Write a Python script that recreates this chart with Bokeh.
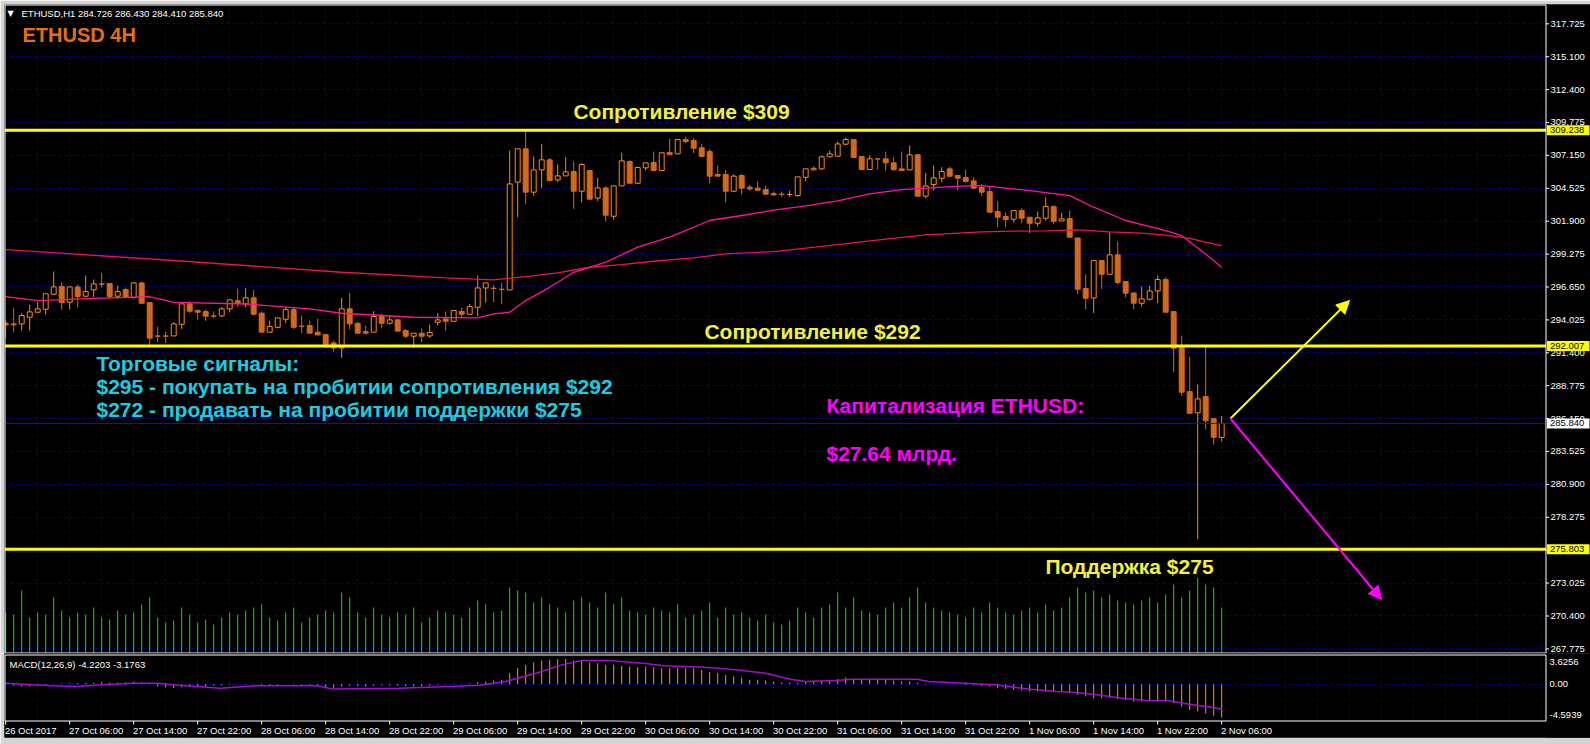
from bokeh.plotting import figure
from bokeh.models import Range1d, FixedTicker, Label, Arrow, NormalHead, ColumnDataSource
from bokeh.layouts import column
from bokeh.embed import file_html
from bokeh.resources import INLINE
from bokeh.core.properties import value

# ---------------- data ----------------
time_labels = ["26 Oct 2017", "27 Oct 06:00", "27 Oct 14:00", "27 Oct 22:00", "28 Oct 06:00",
               "28 Oct 14:00", "28 Oct 22:00", "29 Oct 06:00", "29 Oct 14:00", "29 Oct 22:00",
               "30 Oct 06:00", "30 Oct 14:00", "30 Oct 22:00", "31 Oct 06:00", "31 Oct 14:00",
               "31 Oct 22:00", "1 Nov 06:00", "1 Nov 14:00", "1 Nov 22:00", "2 Nov 06:00"]

opens = [293.83, 293.78, 293.78, 294.31, 294.71, 294.95, 296.15, 296.76, 295.51, 296.73,
         295.99, 296.50, 296.97, 297.00, 295.99, 296.52, 295.88, 297.05, 295.48, 292.82,
         292.82, 292.82, 293.75, 295.38, 294.85, 294.77, 294.42, 294.42, 294.98, 295.62,
         295.38, 295.86, 294.63, 293.12, 293.51, 294.15, 294.92, 293.60, 293.65, 293.12,
         292.93, 292.26, 291.86, 294.98, 293.83, 293.17, 293.12, 294.37, 293.83, 294.10,
         293.25, 292.80, 293.04, 292.82, 293.91, 294.18, 293.99, 294.77, 294.55, 295.11,
         296.65, 296.63, 296.55, 296.49, 305.09, 307.75, 304.29, 306.07, 306.87, 305.27,
         305.59, 305.94, 304.37, 306.02, 303.83, 304.63, 302.37, 304.79, 306.74, 305.01,
         306.23, 306.66, 306.02, 307.45, 307.35, 308.49, 308.41, 307.83, 307.53, 305.70,
         305.70, 304.37, 305.62, 304.69, 304.61, 304.50, 304.18, 304.13, 304.10, 304.02,
         305.48, 306.20, 306.15, 307.11, 307.16, 308.12, 308.49, 307.13, 306.10, 306.95,
         306.95, 306.63, 306.15, 306.07, 307.27, 303.97, 304.90, 305.40, 306.15, 305.62,
         305.46, 305.19, 304.66, 304.34, 302.75, 302.35, 302.13, 302.82, 302.29, 301.81,
         302.21, 303.14, 302.00, 302.18, 300.64, 296.60, 295.85, 298.83, 297.74, 299.29,
         297.16, 296.25, 295.43, 295.75, 296.41, 297.32, 294.77, 291.89, 288.38, 286.68,
         287.98, 286.22, 284.726]
highs = [294.05, 295.03, 294.63, 295.32, 295.51, 296.18, 297.96, 297.10, 296.76, 296.92,
         297.64, 297.32, 297.83, 297.00, 296.84, 296.68, 297.11, 297.16, 295.48, 293.57,
         293.17, 293.91, 295.38, 295.59, 294.93, 294.93, 294.77, 295.11, 295.70, 296.60,
         296.63, 296.49, 294.77, 294.05, 294.26, 295.16, 295.11, 294.45, 294.05, 294.18,
         292.93, 292.45, 295.86, 296.25, 293.91, 293.65, 294.79, 294.58, 294.45, 294.18,
         293.38, 293.04, 293.41, 293.73, 294.63, 294.77, 294.85, 295.06, 295.38, 297.64,
         297.05, 296.89, 297.05, 307.61, 307.75, 309.21, 307.13, 308.14, 307.00, 306.50,
         307.08, 306.74, 306.60, 306.07, 305.43, 304.74, 304.79, 307.45, 306.82, 306.34,
         306.63, 307.53, 307.48, 308.55, 308.49, 308.73, 308.62, 308.14, 307.72, 306.42,
         306.07, 305.70, 305.75, 304.87, 305.14, 304.82, 304.34, 304.34, 304.42, 305.51,
         306.15, 306.36, 307.21, 307.61, 308.33, 308.65, 308.49, 307.13, 307.21, 306.95,
         307.53, 307.08, 307.53, 308.01, 307.35, 305.83, 306.42, 306.28, 306.31, 305.62,
         306.10, 305.48, 304.95, 304.74, 303.57, 302.69, 302.82, 303.01, 302.29, 302.75,
         303.89, 303.22, 302.64, 302.82, 300.64, 297.72, 298.89, 298.83, 301.10, 300.35,
         297.16, 296.25, 296.76, 296.81, 297.64, 297.50, 294.77, 292.85, 291.17, 288.94,
         291.97, 286.22, 286.43]
lows = [292.64, 293.10, 293.25, 293.25, 294.66, 294.53, 296.07, 294.93, 294.95, 295.11,
        295.91, 295.91, 296.68, 295.78, 295.78, 295.83, 295.78, 295.35, 291.97, 292.32,
        292.24, 292.82, 293.38, 294.66, 294.13, 294.02, 294.23, 294.31, 294.71, 295.11,
        295.11, 294.47, 293.12, 293.12, 293.43, 293.83, 293.38, 293.04, 293.04, 292.90,
        291.86, 291.57, 291.07, 293.33, 292.98, 292.93, 293.12, 293.43, 293.73, 293.20,
        292.64, 291.86, 292.32, 292.66, 293.65, 293.25, 293.99, 294.31, 294.55, 294.39,
        295.48, 295.51, 295.38, 296.49, 302.29, 303.36, 304.02, 304.61, 305.14, 305.09,
        305.59, 302.96, 303.49, 303.73, 303.57, 301.97, 302.13, 304.79, 304.95, 304.95,
        306.02, 306.02, 306.02, 307.24, 307.35, 308.20, 307.40, 307.08, 305.01, 305.57,
        303.49, 304.29, 304.15, 304.42, 304.37, 304.13, 304.02, 303.89, 303.89, 303.94,
        305.16, 306.02, 306.07, 307.11, 307.16, 308.01, 307.05, 306.10, 306.10, 306.10,
        306.02, 305.96, 306.02, 306.07, 303.97, 303.81, 304.42, 305.08, 305.48, 304.42,
        305.08, 304.55, 304.02, 302.69, 301.50, 301.50, 301.87, 301.81, 301.02, 301.57,
        302.02, 301.76, 302.00, 300.70, 296.17, 294.95, 294.66, 296.57, 297.74, 296.92,
        295.91, 294.95, 295.16, 295.64, 295.43, 294.71, 289.92, 288.06, 286.65, 276.60,
        285.37, 284.15, 284.41]
closes = [293.70, 293.70, 294.45, 294.74, 294.98, 296.18, 296.73, 295.48, 296.73, 295.96,
          296.36, 296.97, 296.95, 295.96, 296.36, 295.88, 297.05, 295.43, 292.64, 292.80,
          292.80, 293.78, 295.38, 294.79, 294.71, 294.39, 294.40, 294.98, 295.70, 295.43,
          295.86, 294.55, 293.12, 293.57, 294.26, 294.92, 293.51, 293.58, 293.04, 292.90,
          292.13, 291.86, 294.98, 293.78, 293.04, 293.04, 294.37, 293.83, 294.10, 293.20,
          292.80, 293.04, 292.80, 293.09, 294.10, 293.99, 294.85, 294.55, 295.16, 296.65,
          297.05, 296.60, 296.52, 304.95, 307.75, 304.29, 306.07, 306.87, 305.22, 305.59,
          305.91, 304.37, 306.50, 303.73, 304.63, 302.45, 304.79, 306.79, 305.01, 306.26,
          306.63, 306.02, 307.43, 307.29, 308.49, 308.33, 307.80, 307.13, 305.57, 305.57,
          304.37, 305.57, 304.61, 304.55, 304.45, 304.13, 304.07, 304.12, 304.11, 305.51,
          306.15, 306.07, 307.11, 307.35, 308.14, 308.49, 307.05, 306.10, 306.95, 306.94,
          306.63, 306.10, 306.02, 307.27, 303.97, 304.79, 305.43, 305.94, 305.56, 305.40,
          305.14, 304.61, 304.29, 302.69, 302.29, 302.10, 302.82, 302.21, 301.81, 302.24,
          303.14, 301.97, 302.16, 300.70, 296.55, 295.83, 298.83, 297.74, 299.29, 297.08,
          296.23, 295.43, 295.78, 296.41, 297.32, 294.71, 291.84, 288.33, 286.65, 287.79,
          286.06, 284.73, 285.84]

volumes = [40, 38, 62, 35, 40, 38, 55, 42, 35, 40, 38, 45, 35, 33, 42, 38,
           40, 48, 55, 35, 30, 32, 45, 38, 30, 33, 28, 35, 40, 38, 42, 45,
           48, 35, 32, 40, 45, 30, 35, 38, 42, 40, 60, 55, 40, 35, 45, 38,
           35, 40, 38, 45, 30, 35, 42, 40, 38, 35, 45, 52, 48, 40, 42, 65,
           62, 60, 50, 55, 48, 45, 40, 52, 55, 50, 45, 60, 48, 55, 42, 40,
           38, 45, 42, 40, 48, 35, 38, 42, 50, 35, 45, 38, 40, 35, 32, 38,
           30, 28, 32, 45, 40, 35, 45, 48, 60, 45, 55, 42, 40, 38, 45, 50,
           45, 55, 65, 50, 45, 42, 40, 38, 35, 45, 40, 50, 45, 40, 38, 42,
           45, 40, 48, 42, 45, 55, 65, 60, 62, 55, 58, 52, 50, 48, 52, 55,
           50, 58, 68, 55, 62, 75, 68, 65, 45]

slow_ma_bar = [0, 21, 42, 55, 61, 65, 69, 73, 77, 81, 86, 90, 96, 104, 110, 115, 122, 126,
               130, 134, 138, 142, 145, 148, 150, 152]
slow_ma = [299.71, 298.84, 297.90, 297.45, 297.29, 297.56, 297.85, 298.30, 298.51, 298.78,
           299.05, 299.37, 299.55, 300.10, 300.55, 300.88, 301.13, 301.18, 301.20, 301.28,
           301.12, 301.02, 300.86, 300.60, 300.30, 300.03]
fast_ma_bar = [0, 4, 12, 18, 21, 30, 38, 42, 51, 59, 61, 63, 65, 68, 71, 75, 79, 83, 88, 92,
               96, 100, 104, 108, 112, 116, 120, 122, 128, 133, 136, 140, 145, 147, 149, 151, 152]
fast_ma = [295.96, 295.64, 295.83, 295.96, 295.50, 295.37, 294.98, 294.63, 294.31, 294.26,
           294.58, 294.71, 295.64, 296.70, 297.90, 298.70, 299.90, 300.70, 302.03, 302.43,
           302.85, 303.20, 303.60, 304.16, 304.50, 304.66, 304.79, 304.82, 304.42, 304.02,
           303.09, 302.03, 301.23, 300.83, 299.84, 298.84, 298.30]

macd_hist = [0.10, -0.20, -0.30, -0.30, -0.20, -0.10, 0.05, 0.10, 0.10, 0.15,
             0.15, 0.20, 0.25, 0.20, 0.20, 0.25, 0.30, 0.25, 0.10, -0.30,
             -0.40, -0.50, -0.40, -0.30, -0.30, -0.30, -0.20, -0.15, -0.10, 0.00,
             0.05, 0.05, -0.10, -0.15, -0.10, 0.00, -0.05, -0.10, -0.15, -0.20,
             -0.35, -0.45, -0.30, -0.20, -0.25, -0.30, -0.20, -0.15, -0.15, -0.20,
             -0.25, -0.30, -0.25, -0.20, -0.10, -0.05, 0.05, 0.05, 0.10, 0.25,
             0.33, 0.46, 0.54, 1.39, 2.02, 2.44, 2.74, 2.99, 3.07, 3.16,
             3.20, 2.99, 2.99, 2.74, 2.65, 2.44, 2.44, 2.32, 2.23, 2.15,
             2.23, 2.15, 2.02, 2.02, 2.02, 2.02, 2.02, 1.81, 1.52, 1.39,
             1.18, 0.97, 0.76, 0.55, 0.55, 0.46, 0.34, 0.21, 0.21, 0.20,
             0.30, 0.45, 0.50, 0.55, 0.65, 0.85, 0.65, 0.50, 0.60, 0.55,
             0.55, 0.45, 0.35, 0.35, 0.20, 0.10, 0.05, 0.05, 0.00, -0.05,
             -0.10, -0.15, -0.25, -0.30, -0.50, -0.60, -0.70, -0.80, -0.93, -0.93,
             -0.93, -0.93, -0.93, -1.15, -1.35, -1.55, -1.77, -1.77, -1.77, -1.90,
             -2.00, -2.20, -2.20, -2.20, -2.20, -2.20, -2.40, -2.85, -3.25, -3.45,
             -3.70, -4.00, -4.2203]
signal_bar = [0, 5.7, 8.9, 12.1, 16, 19.1, 21.7, 26.8, 31.2, 38.9, 40.8, 49.1, 55.5, 59.3,
              62.5, 66.3, 69.5, 72.1, 75.3, 79.7, 82.3, 87.4, 91.2, 95, 98.1, 100, 103.8,
              105.8, 114, 115.3, 119.8, 123.6, 128.1, 131.3, 133.8, 136.4, 139.6, 142.7,
              145.3, 147.2, 149.1, 151, 152]
signal = [0.13, -0.21, -0.30, -0.08, 0.13, 0.13, -0.13, -0.51, -0.21, -0.21, -0.60, -0.51,
          -0.30, -0.13, 0.34, 1.39, 2.44, 2.99, 2.99, 2.65, 2.32, 2.15, 1.81, 1.39, 0.63,
          0.34, 0.46, 0.63, 0.63, 0.34, 0.13, -0.08, -0.63, -0.93, -1.05, -1.35, -1.77,
          -2.07, -2.07, -2.40, -2.70, -2.95, -3.1763]

price_ticks = [317.725, 315.100, 312.475, 309.850, 307.225, 304.600, 301.975, 299.350,
               296.725, 294.100, 291.475, 288.850, 286.225, 283.600, 280.975, 278.350,
               275.725, 273.100, 270.475, 267.850]
price_tick_labels = ["317.725", "315.100", "312.400", "309.775", "307.150", "304.525",
                     "301.900", "299.275", "296.650", "294.025", "291.400", "288.775",
                     "286.150", "283.525", "280.900", "278.275", "275.650", "273.025",
                     "270.400", "267.775"]
levels = [309.238, 292.007, 275.803]
last_price = 285.840
macd_top, macd_bottom = 3.6256, -4.5939
macd_tick_labels = ["3.6256", "0.00", "-4.5939"]

# ---------------- layout helpers (page pixel -> data units) ----------------
UP = "#FF8C00"
DOWN = "#D2691E"
GRID = "#00009A"
YEL = "#FFFF00"
TXT_YEL = "#F2F23C"
CYAN = "#1ECBE1"
MAG = "#FF00FF"
WIN = "#D4D4D4"
AX_FONT = "Liberation Sans"
AX_SIZE = "9.5px"
PX_PER_BAR = 8.0
PX_PER_USD = 12.533
PX_PER_MACD = 65.0 / (macd_top - macd_bottom)


def bx(px):
    return (px - 5.2) / PX_PER_BAR


def py(pyy):
    return 317.725 - (pyy - 23.3) / PX_PER_USD


def my(pyy):
    return macd_top - (pyy - 655.0) / PX_PER_MACD


n = len(closes)
idx = list(range(n))
XR = Range1d(bx(4), bx(1590))
grid_x = [4 * k for k in range(1, 49)]
PLOT_R = 1545.5

common = dict(output_backend="svg", toolbar_location=None, x_axis_location=None,
              y_axis_location=None, min_border_left=4, min_border_right=0,
              background_fill_color="black", border_fill_color=WIN, outline_line_color=None)

# ================= main price panel =================
main = figure(width=1590, height=653, x_range=XR, y_range=Range1d(py(653), py(4)),
              min_border_top=4, min_border_bottom=0, **common)
main.xgrid.ticker = FixedTicker(ticks=grid_x)
main.ygrid.ticker = FixedTicker(ticks=price_ticks)
for g in (main.xgrid, main.ygrid):
    g.grid_line_color = GRID
    g.grid_line_dash = "3 3"

# volumes
main.extra_y_ranges = {"vol": Range1d(-1, 648)}
main.segment(x0=idx, y0=[0] * n, x1=idx, y1=volumes, y_range_name="vol",
             line_color="#00E400", line_width=1)


def cds(ids):
    return ColumnDataSource(dict(
        x=ids,
        hi=[highs[i] for i in ids], lo=[lows[i] for i in ids],
        top=[max(opens[i], closes[i]) for i in ids],
        bot=[min(opens[i], closes[i]) for i in ids]))


bull = cds([i for i in idx if closes[i] >= opens[i]])
bear = cds([i for i in idx if closes[i] < opens[i]])
main.segment(x0="x", y0="lo", x1="x", y1="hi", source=bear, line_color=DOWN, line_width=1)
main.segment(x0="x", y0="lo", x1="x", y1="hi", source=bull, line_color=UP, line_width=1)
main.vbar(x="x", width=0.62, top="top", bottom="bot", source=bear,
          fill_color=DOWN, line_color=DOWN, line_width=1)
main.vbar(x="x", width=0.62, top="top", bottom="bot", source=bull,
          fill_color="black", line_color=UP, line_width=1)

main.line(slow_ma_bar, slow_ma, line_color="#E8154A", line_width=1.3)
main.line(fast_ma_bar, fast_ma, line_color="#FF1493", line_width=1.3)

for lv in levels:
    main.segment(x0=[bx(4)], x1=[bx(PLOT_R)], y0=[lv], y1=[lv], line_color=YEL, line_width=3)
main.segment(x0=[bx(4)], x1=[bx(PLOT_R)], y0=[last_price], y1=[last_price],
             line_color="#1414B4", line_width=1)

# right price scale area
main.quad(left=[bx(PLOT_R)], right=[bx(1595)], bottom=[py(660)], top=[py(0)],
          fill_color="black", line_color=None)
main.quad(left=[bx(4.5)], right=[bx(PLOT_R)], bottom=[py(652.5)], top=[py(4.5)],
          fill_color=None, line_color="white", line_width=1)
main.segment(x0=[bx(PLOT_R)] * len(price_ticks), x1=[bx(1548.5)] * len(price_ticks),
             y0=price_ticks, y1=price_ticks, line_color="white", line_width=1)
main.text(x=[bx(1550)] * len(price_ticks), y=price_ticks, text=price_tick_labels,
          text_font=value(AX_FONT), text_font_size=value(AX_SIZE), text_color="white",
          text_baseline="middle", text_align="left")
box_h = 5.0 / PX_PER_USD
box_vals = levels + [last_price]
box_cols = [YEL, YEL, YEL, "white"]
main.quad(left=[bx(1546.5)] * 4, right=[bx(1589)] * 4,
          bottom=[v - box_h for v in box_vals], top=[v + box_h for v in box_vals],
          fill_color=box_cols, line_color=None)
main.text(x=[bx(1549.5)] * 4, y=box_vals, text=[f"{v:.3f}" for v in box_vals],
          text_font=value(AX_FONT), text_font_size=value(AX_SIZE), text_color="black",
          text_baseline="middle", text_align="left")

# header texts
main.add_layout(Label(x=bx(7), y=py(13), text="\u25BC", text_font="DejaVu Sans",
                      text_font_size="8px", text_color="white", text_baseline="middle"))
main.add_layout(Label(x=bx(21), y=py(13),
                      text="ETHUSD,H1  284.726 286.430 284.410 285.840",
                      text_font=AX_FONT, text_font_size=AX_SIZE, text_color="white",
                      text_baseline="middle"))
main.add_layout(Label(x=bx(22), y=py(34), text="ETHUSD 4H", text_font="Liberation Sans",
                      text_font_style="bold", text_font_size="20px", text_color="#E8700F",
                      text_baseline="middle"))


def big(text, px, pyy, color, align="left"):
    main.add_layout(Label(x=bx(px), y=py(pyy), text=text, text_font="Liberation Sans",
                          text_font_style="bold", text_font_size="21px", text_color=color,
                          text_align=align, text_baseline="middle"))


big("Сопротивление $309", 681, 111, TXT_YEL, "center")
big("Сопротивление $292", 812, 331, TXT_YEL, "center")
big("Поддержка $275", 1129, 566, TXT_YEL, "center")
big("Торговые сигналы:", 96, 363, CYAN)
big("$295 - покупать на пробитии сопротивления $292", 96, 386, CYAN)
big("$272 - продавать на пробитии поддержки $275", 96, 409, CYAN)
big("Капитализация ETHUSD:", 826, 405, MAG)
big("$27.64 млрд.", 826, 453, MAG)

main.add_layout(Arrow(end=NormalHead(size=13, fill_color=YEL, line_color=YEL),
                      x_start=bx(1230), y_start=py(418), x_end=bx(1349), y_end=py(300),
                      line_color=YEL, line_width=2))
main.add_layout(Arrow(end=NormalHead(size=13, fill_color=MAG, line_color=MAG),
                      x_start=bx(1230), y_start=py(418), x_end=bx(1381), y_end=py(599),
                      line_color=MAG, line_width=2))

# ================= MACD panel =================
macd = figure(width=1590, height=91, x_range=XR, y_range=Range1d(my(737), my(653)),
              min_border_top=0, min_border_bottom=7, **common)
macd.xgrid.ticker = FixedTicker(ticks=grid_x)
macd.ygrid.ticker = FixedTicker(ticks=[0.0])
for g in (macd.xgrid, macd.ygrid):
    g.grid_line_color = GRID
    g.grid_line_dash = "3 3"

macd.segment(x0=idx, y0=[0] * n, x1=idx, y1=macd_hist, line_color="#FF9410", line_width=1)
macd.line(signal_bar, signal, line_color="#A010C8", line_width=1.5)

macd.quad(left=[bx(0)], right=[bx(1595)], bottom=[my(654.5)], top=[my(650)],
          fill_color="black", line_color=None)
macd.quad(left=[bx(0)], right=[bx(1595)], bottom=[my(745)], top=[my(720.5)],
          fill_color="black", line_color=None)
macd.quad(left=[bx(PLOT_R)], right=[bx(1595)], bottom=[my(745)], top=[my(650)],
          fill_color="black", line_color=None)
macd.quad(left=[bx(4.5)], right=[bx(PLOT_R)], bottom=[my(720.5)], top=[my(654.5)],
          fill_color=None, line_color="white", line_width=1)

macd.text(x=[bx(1549)] * 3, y=[my(661.7), 0.0, my(714)], text=macd_tick_labels,
          text_font=value(AX_FONT), text_font_size=value(AX_SIZE), text_color="white",
          text_baseline="middle", text_align="left")

tick_bars = [8 * k for k in range(len(time_labels))]
macd.segment(x0=tick_bars, x1=tick_bars, y0=[my(720.5)] * len(tick_bars),
             y1=[my(724)] * len(tick_bars), line_color="white", line_width=1)
macd.text(x=[t - 0.1 for t in tick_bars], y=[my(729.5)] * len(tick_bars), text=time_labels,
          text_font=value(AX_FONT), text_font_size=value(AX_SIZE), text_color="white",
          text_baseline="middle", text_align="left")

macd.add_layout(Label(x=bx(9), y=my(664), text="MACD(12,26,9) -4.2203 -3.1763",
                      text_font=AX_FONT, text_font_size=AX_SIZE, text_color="white",
                      text_baseline="middle"))

layout = column(main, macd)
open("out.html", "w").write(file_html(layout, INLINE))
